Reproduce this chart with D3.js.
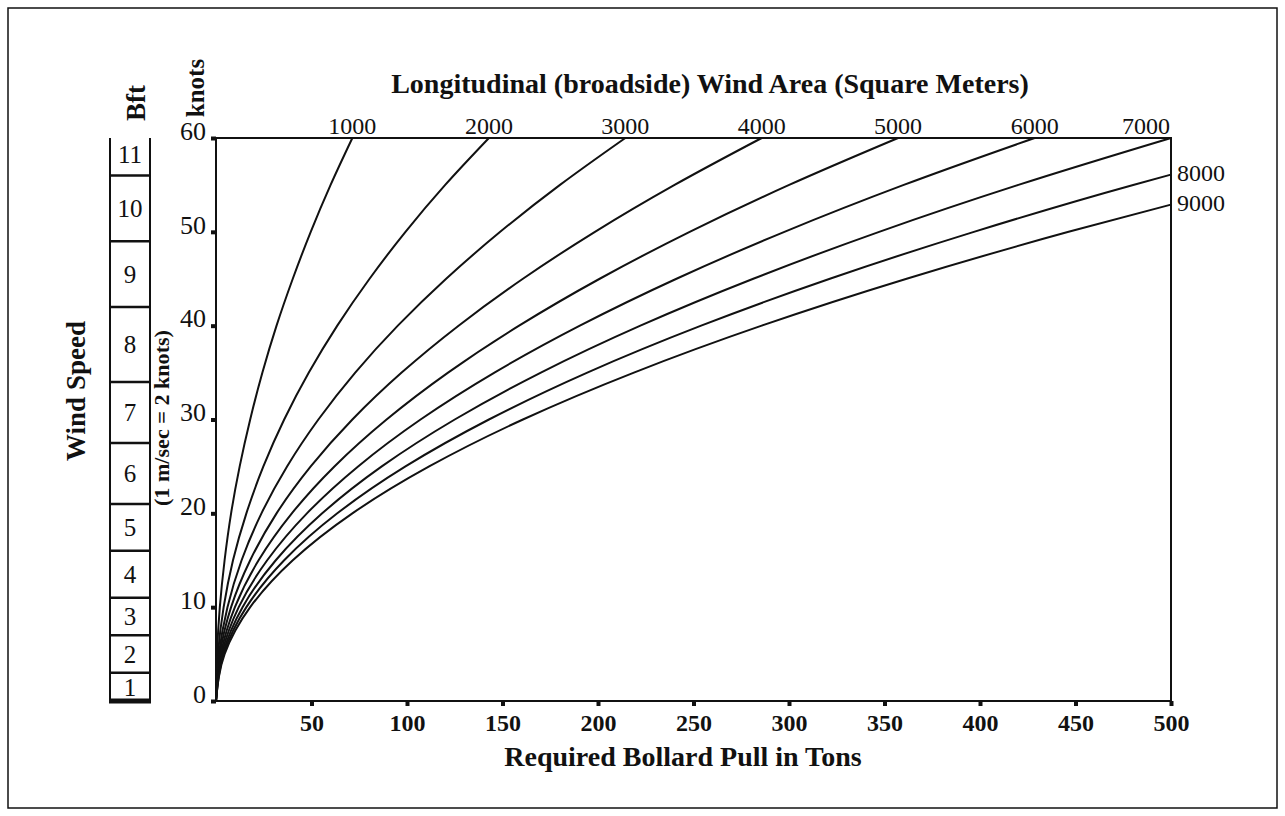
<!DOCTYPE html>
<html>
<head>
<meta charset="utf-8">
<script src="https://cdn.jsdelivr.net/npm/d3@7"></script>
<style>
  body { margin: 0; background: #fff; }
  text { font-family: "Liberation Serif", "Times New Roman", serif; fill: #111; }
</style>
</head>
<body>
<svg width="1285" height="816"></svg>
<script>
// wind speed (knots) at which the pull values below were read
var knots = [0, 5, 10, 15, 20, 25, 30, 35, 40, 45, 50, 55, 60];
var knots8000 = [0, 5, 10, 15, 20, 25, 30, 35, 40, 45, 50, 55, 56.1];
var knots9000 = [0, 5, 10, 15, 20, 25, 30, 35, 40, 45, 50, 52.9];

// required bollard pull (tons), one array per wind area curve
var pull1000 = [0, 0.5, 2, 4.5, 7.9, 12.4, 17.9, 24.3, 31.7, 40.2, 49.6, 60, 71.4];
var pull2000 = [0, 1, 4, 8.9, 15.9, 24.8, 35.7, 48.6, 63.5, 80.4, 99.2, 120, 142.9];
var pull3000 = [0, 1.5, 6, 13.4, 23.8, 37.2, 53.6, 72.9, 95.2, 120.5, 148.8, 180.1, 214.3];
var pull4000 = [0, 2, 7.9, 17.9, 31.7, 49.6, 71.4, 97.2, 127, 160.7, 198.4, 240.1, 285.7];
var pull5000 = [0, 2.5, 9.9, 22.3, 39.7, 62, 89.3, 121.5, 158.7, 200.9, 248, 300.1, 357.1];
var pull6000 = [0, 3, 11.9, 26.8, 47.6, 74.4, 107.1, 145.8, 190.5, 241.1, 297.6, 360.1, 428.6];
var pull7000 = [0, 3.5, 13.9, 31.3, 55.6, 86.8, 125, 170.1, 222.2, 281.3, 347.2, 420.1, 500];
var pull8000 = [0, 4, 15.9, 35.7, 63.5, 99.2, 142.9, 194.4, 254, 321.4, 396.8, 480.2, 500];
var pull9000 = [0, 4.5, 17.9, 40.2, 71.4, 111.6, 160.7, 218.8, 285.7, 361.6, 446.4, 500];

var areaLabels = ["1000", "2000", "3000", "4000", "5000", "6000", "7000", "8000", "9000"];

// beaufort scale, cell limits in knots
var bftBounds = [0, 3, 7, 11, 16, 21, 27.5, 34, 42, 49, 56, 60];
var bftLabels = ["1", "2", "3", "4", "5", "6", "7", "8", "9", "10", "11"];

var xTicks = [50, 100, 150, 200, 250, 300, 350, 400, 450, 500];
var yTicks = [0, 10, 20, 30, 40, 50, 60];

var series = [
  {knots: knots, pull: pull1000},
  {knots: knots, pull: pull2000},
  {knots: knots, pull: pull3000},
  {knots: knots, pull: pull4000},
  {knots: knots, pull: pull5000},
  {knots: knots, pull: pull6000},
  {knots: knots, pull: pull7000},
  {knots: knots8000, pull: pull8000},
  {knots: knots9000, pull: pull9000}
].map(function(s, i) {
  return {label: areaLabels[i], pts: s.knots.map(function(k, j) { return [s.pull[j], k]; })};
});

var svg = d3.select("svg");
var L = 216, R = 1171, T = 138, B = 701;

svg.append("rect").attr("x", 8).attr("y", 8).attr("width", 1269).attr("height", 800)
  .attr("fill", "none").attr("stroke", "#111").attr("stroke-width", 1.5);

var x = d3.scaleLinear().domain([0, 500]).range([L, R]);
var y = d3.scaleLinear().domain([0, 60]).range([B, T]);

// frame
svg.append("rect").attr("x", L).attr("y", T).attr("width", R - L).attr("height", B - T)
  .attr("fill", "none").attr("stroke", "#111").attr("stroke-width", 2);

var yAxis = svg.append("g").attr("transform", "translate(" + L + ",0)")
  .call(d3.axisLeft(y).tickValues(yTicks).tickSize(5).tickPadding(5));
yAxis.select(".domain").remove();
yAxis.selectAll(".tick line").attr("stroke", "#111").attr("stroke-width", 4);
yAxis.selectAll(".tick text").attr("font-size", 26).attr("dy", "0.05em")
  .style("font-family", "Liberation Serif");

var xAxis = svg.append("g").attr("transform", "translate(0," + B + ")")
  .call(d3.axisBottom(x).tickValues(xTicks).tickSize(5).tickPadding(8));
xAxis.select(".domain").remove();
xAxis.selectAll(".tick line").attr("stroke", "#111").attr("stroke-width", 4);
xAxis.selectAll(".tick text").attr("font-size", 24).attr("font-weight", "bold")
  .attr("y", 13).attr("dy", "0.71em").style("font-family", "Liberation Serif");

// curves
var line = d3.line()
  .x(function(d) { return x(d[0]); })
  .y(function(d) { return y(d[1]); })
  .curve(d3.curveMonotoneY);

svg.append("g").selectAll("path").data(series).enter().append("path")
  .attr("d", function(d) { return line(d.pts); })
  .attr("fill", "none").attr("stroke", "#111").attr("stroke-width", 2);

// curve labels
svg.append("g").selectAll("text").data(series).enter().append("text")
  .attr("font-size", 24)
  .attr("x", function(d) {
    var end = d.pts[d.pts.length - 1];
    if (end[1] < 60) return R + 6;
    return Math.min(x(end[0]), R - 25);
  })
  .attr("y", function(d) {
    var end = d.pts[d.pts.length - 1];
    if (end[1] < 60) return y(end[1]) + 6;
    return T - 4;
  })
  .attr("text-anchor", function(d) { return d.pts[d.pts.length - 1][1] < 60 ? "start" : "middle"; })
  .text(function(d) { return d.label; });

// beaufort column
var bl = 110, br = 150;
var bft = svg.append("g");
bft.append("line").attr("x1", bl).attr("x2", bl).attr("y1", y(60)).attr("y2", B)
  .attr("stroke", "#111").attr("stroke-width", 2);
bft.append("line").attr("x1", br).attr("x2", br).attr("y1", y(60)).attr("y2", B)
  .attr("stroke", "#111").attr("stroke-width", 2);
bft.selectAll("line.b").data(bftBounds.slice(1, -1)).enter().append("line")
  .attr("x1", bl).attr("x2", br)
  .attr("y1", function(d) { return y(d); }).attr("y2", function(d) { return y(d); })
  .attr("stroke", "#111").attr("stroke-width", 2.5);
bft.append("line").attr("x1", bl - 1).attr("x2", br + 1).attr("y1", B).attr("y2", B)
  .attr("stroke", "#111").attr("stroke-width", 5);
bft.selectAll("text").data(bftLabels).enter().append("text")
  .attr("x", (bl + br) / 2)
  .attr("y", function(d, i) { return i == 10 ? y(58.3) : (y(bftBounds[i]) + y(bftBounds[i + 1])) / 2; })
  .attr("dy", "0.35em").attr("text-anchor", "middle").attr("font-size", 25)
  .text(function(d) { return d; });

// titles
svg.append("text").attr("x", 710).attr("y", 93).attr("text-anchor", "middle")
  .attr("font-size", 28).attr("font-weight", "bold")
  .text("Longitudinal (broadside) Wind Area (Square Meters)");
svg.append("text").attr("x", 683).attr("y", 766).attr("text-anchor", "middle")
  .attr("font-size", 28).attr("font-weight", "bold")
  .text("Required Bollard Pull in Tons");
svg.append("text").attr("transform", "translate(85,391) rotate(-90)").attr("text-anchor", "middle")
  .attr("font-size", 27).attr("font-weight", "bold").text("Wind Speed");
svg.append("text").attr("transform", "translate(169,418) rotate(-90)").attr("text-anchor", "middle")
  .attr("font-size", 20).attr("font-weight", "bold")
  .attr("textLength", 176).attr("lengthAdjust", "spacingAndGlyphs").text("(1 m/sec = 2 knots)");
svg.append("text").attr("transform", "translate(145,103) rotate(-90)").attr("text-anchor", "middle")
  .attr("font-size", 27).attr("font-weight", "bold").text("Bft");
svg.append("text").attr("transform", "translate(204,88) rotate(-90)").attr("text-anchor", "middle")
  .attr("font-size", 25).attr("font-weight", "bold").text("knots");
</script>
</body>
</html>
